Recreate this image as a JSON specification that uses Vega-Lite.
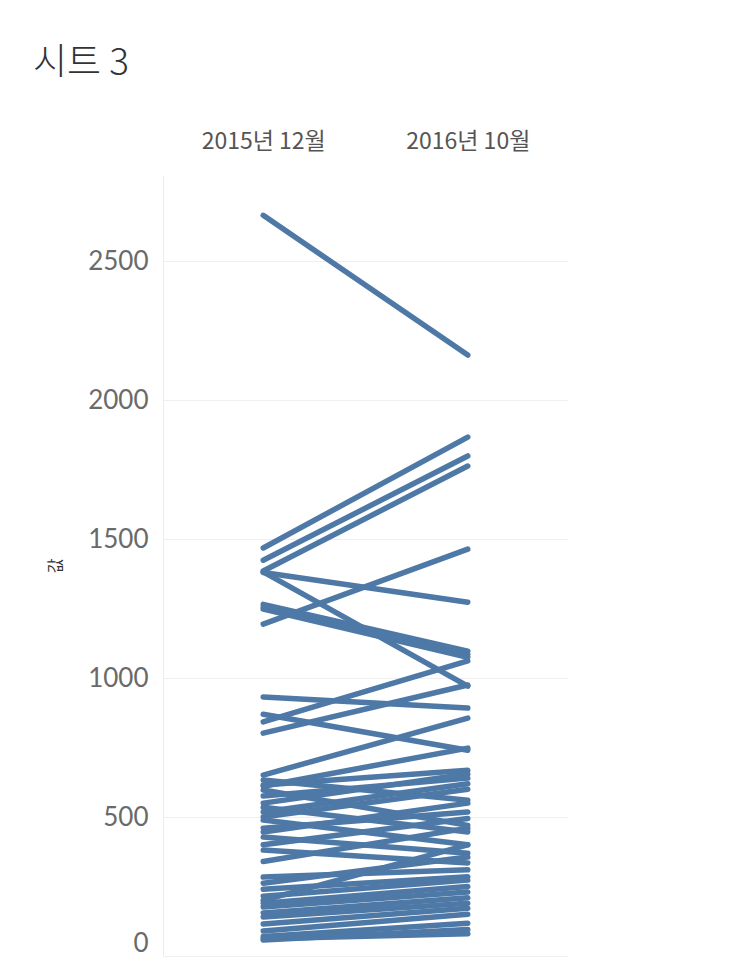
{
  "$schema": "https://vega.github.io/schema/vega-lite/v6.json",
  "autosize": {"type": "none"},
  "width": 405,
  "height": 781,
  "padding": {"left": 163, "top": 175, "right": 172, "bottom": 10},
  "background": "white",
  "title": {
    "text": "시트 3",
    "anchor": "start",
    "frame": "group",
    "dx": -130,
    "offset": 47,
    "font": "Noto Sans CJK KR",
    "fontSize": 37,
    "fontWeight": 300,
    "color": "#333333"
  },
  "config": {
    "view": {"stroke": null},
    "font": "Noto Sans CJK KR"
  },
  "data": {
    "values": [
      {"id": "a", "period": "2015년 12월", "value": 2665}, {"id": "a", "period": "2016년 10월", "value": 2162},
      {"id": "b", "period": "2015년 12월", "value": 1468}, {"id": "b", "period": "2016년 10월", "value": 1867},
      {"id": "c", "period": "2015년 12월", "value": 1424}, {"id": "c", "period": "2016년 10월", "value": 1799},
      {"id": "d", "period": "2015년 12월", "value": 1385}, {"id": "d", "period": "2016년 10월", "value": 1763},
      {"id": "e", "period": "2015년 12월", "value": 1380}, {"id": "e", "period": "2016년 10월", "value": 1273},
      {"id": "f", "period": "2015년 12월", "value": 1382}, {"id": "f", "period": "2016년 10월", "value": 971},
      {"id": "g", "period": "2015년 12월", "value": 1265}, {"id": "g", "period": "2016년 10월", "value": 1097},
      {"id": "h", "period": "2015년 12월", "value": 1255}, {"id": "h", "period": "2016년 10월", "value": 1085},
      {"id": "i", "period": "2015년 12월", "value": 1248}, {"id": "i", "period": "2016년 10월", "value": 1075},
      {"id": "j", "period": "2015년 12월", "value": 1194}, {"id": "j", "period": "2016년 10월", "value": 1464},
      {"id": "k", "period": "2015년 12월", "value": 932}, {"id": "k", "period": "2016년 10월", "value": 892},
      {"id": "l", "period": "2015년 12월", "value": 870}, {"id": "l", "period": "2016년 10월", "value": 740},
      {"id": "m", "period": "2015년 12월", "value": 842}, {"id": "m", "period": "2016년 10월", "value": 1062},
      {"id": "n", "period": "2015년 12월", "value": 802}, {"id": "n", "period": "2016년 10월", "value": 975},
      {"id": "o", "period": "2015년 12월", "value": 651}, {"id": "o", "period": "2016년 10월", "value": 856},
      {"id": "p", "period": "2015년 12월", "value": 611}, {"id": "p", "period": "2016년 10월", "value": 748},
      {"id": "q1", "period": "2015년 12월", "value": 633}, {"id": "q1", "period": "2016년 10월", "value": 560},
      {"id": "q2", "period": "2015년 12월", "value": 615}, {"id": "q2", "period": "2016년 10월", "value": 668},
      {"id": "q3", "period": "2015년 12월", "value": 597}, {"id": "q3", "period": "2016년 10월", "value": 470},
      {"id": "q4", "period": "2015년 12월", "value": 576}, {"id": "q4", "period": "2016년 10월", "value": 640},
      {"id": "q5", "period": "2015년 12월", "value": 550}, {"id": "q5", "period": "2016년 10월", "value": 655},
      {"id": "q6", "period": "2015년 12월", "value": 535}, {"id": "q6", "period": "2016년 10월", "value": 446},
      {"id": "q7", "period": "2015년 12월", "value": 518}, {"id": "q7", "period": "2016년 10월", "value": 620},
      {"id": "q8", "period": "2015년 12월", "value": 500}, {"id": "q8", "period": "2016년 10월", "value": 600},
      {"id": "q9", "period": "2015년 12월", "value": 489}, {"id": "q9", "period": "2016년 10월", "value": 400},
      {"id": "q10", "period": "2015년 12월", "value": 460}, {"id": "q10", "period": "2016년 10월", "value": 518},
      {"id": "q11", "period": "2015년 12월", "value": 446}, {"id": "q11", "period": "2016년 10월", "value": 550},
      {"id": "q12", "period": "2015년 12월", "value": 428}, {"id": "q12", "period": "2016년 10월", "value": 370},
      {"id": "q13", "period": "2015년 12월", "value": 400}, {"id": "q13", "period": "2016년 10월", "value": 495},
      {"id": "q14", "period": "2015년 12월", "value": 381}, {"id": "q14", "period": "2016년 10월", "value": 335},
      {"id": "q15", "period": "2015년 12월", "value": 340}, {"id": "q15", "period": "2016년 10월", "value": 460},
      {"id": "q16", "period": "2015년 12월", "value": 284}, {"id": "q16", "period": "2016년 10월", "value": 310},
      {"id": "q17", "period": "2015년 12월", "value": 262}, {"id": "q17", "period": "2016년 10월", "value": 356},
      {"id": "q18", "period": "2015년 12월", "value": 240}, {"id": "q18", "period": "2016년 10월", "value": 285},
      {"id": "q19", "period": "2015년 12월", "value": 215}, {"id": "q19", "period": "2016년 10월", "value": 273},
      {"id": "q20", "period": "2015년 12월", "value": 200}, {"id": "q20", "period": "2016년 10월", "value": 400},
      {"id": "q21", "period": "2015년 12월", "value": 190}, {"id": "q21", "period": "2016년 10월", "value": 250},
      {"id": "q22", "period": "2015년 12월", "value": 176}, {"id": "q22", "period": "2016년 10월", "value": 230},
      {"id": "q23", "period": "2015년 12월", "value": 155}, {"id": "q23", "period": "2016년 10월", "value": 210},
      {"id": "q24", "period": "2015년 12월", "value": 140}, {"id": "q24", "period": "2016년 10월", "value": 190},
      {"id": "q25", "period": "2015년 12월", "value": 115}, {"id": "q25", "period": "2016년 10월", "value": 172},
      {"id": "q26", "period": "2015년 12월", "value": 90}, {"id": "q26", "period": "2016년 10월", "value": 150},
      {"id": "q27", "period": "2015년 12월", "value": 70}, {"id": "q27", "period": "2016년 10월", "value": 118},
      {"id": "q28", "period": "2015년 12월", "value": 58}, {"id": "q28", "period": "2016년 10월", "value": 95},
      {"id": "q29", "period": "2015년 12월", "value": 62}, {"id": "q29", "period": "2016년 10월", "value": 80}
    ]
  },
  "mark": {
    "type": "line",
    "color": "#4e79a7",
    "strokeWidth": 5.5,
    "strokeCap": "round",
    "strokeJoin": "round"
  },
  "encoding": {
    "x": {
      "field": "period",
      "type": "ordinal",
      "scale": {"type": "point", "padding": 0.49, "domain": ["2015년 12월", "2016년 10월"]},
      "axis": {
        "orient": "top",
        "title": null,
        "labelAngle": 0,
        "ticks": false,
        "domain": false,
        "grid": false,
        "labelPadding": 22,
        "labelFontSize": 23,
        "labelColor": "#555555",
        "labelFont": "Noto Sans CJK KR"
      }
    },
    "y": {
      "field": "value",
      "type": "quantitative",
      "scale": {"domain": [0, 2810], "nice": false},
      "axis": {
        "title": "값",
        "titleFontSize": 16,
        "titleFontWeight": "normal",
        "titleColor": "#333333",
        "titleX": -100,
        "titleFont": "Noto Sans CJK KR",
        "values": [0, 500, 1000, 1500, 2000, 2500],
        "format": "d",
        "ticks": false,
        "domainColor": "#ececec",
        "gridColor": "#efefef",
        "labelPadding": 15,
        "labelFontSize": 26,
        "labelColor": "#6a6a6a",
        "labelFont": "Lato",
        "labelFlush": true
      }
    },
    "detail": {"field": "id", "type": "nominal"}
  }
}
